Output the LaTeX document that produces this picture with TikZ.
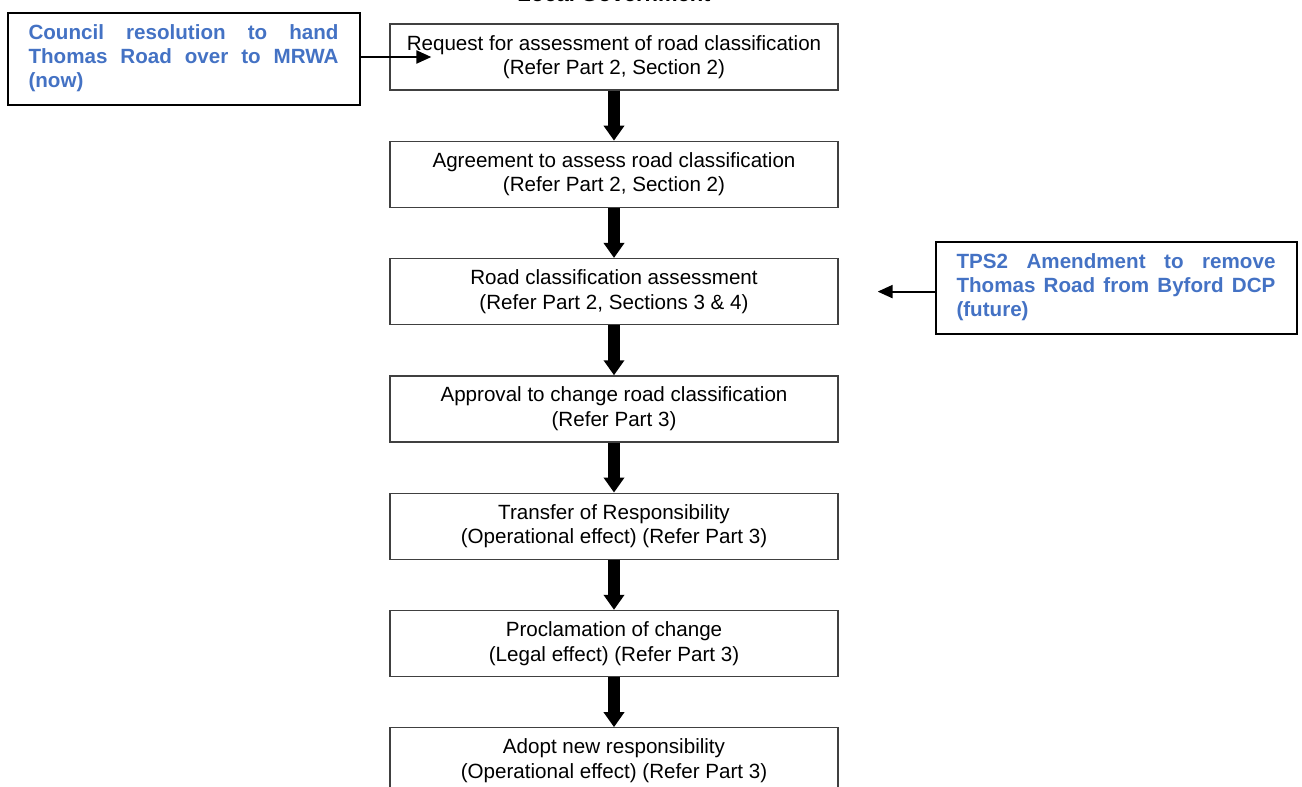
\documentclass[tikz,border=0pt]{standalone}
\usepackage{fontspec}
\setmainfont{Liberation Sans}
\usepackage{xcolor}
\usetikzlibrary{arrows.meta,positioning}
\definecolor{noteblue}{RGB}{68,114,196}
\hyphenpenalty=10000
\tikzset{
  stagebox/.style={
    draw=black!75,
    line width=1.3pt,
    align=center,
    minimum width=448pt,
    minimum height=66pt,
    inner sep=0pt,
    font=\fontsize{20.6}{24.5}\selectfont
  },
  notebox/.style={
    draw=black,
    line width=2pt,
    align=justify,
    inner xsep=21pt,
    inner ysep=0pt,
    minimum height=92pt,
    text=noteblue,
    font=\bfseries\fontsize{20.6}{24}\selectfont
  },
  stagearrow/.style={-{Triangle[width=20pt,length=15pt]}, line width=12pt},
  notearrow/.style={-{Triangle[width=13pt,length=15pt]}, line width=2.2pt}
}
\begin{document}
\begin{tikzpicture}[x=1pt, y=-1pt, node distance=50pt]
  \useasboundingbox (0,0) rectangle (1302,787);
  \node[anchor=base, font=\bfseries\fontsize{22}{26}\selectfont] (title) at (614,1.5) {Local Government};

  \node[stagebox] (request) at (614,57) {Request for assessment of road classification\\(Refer Part 2, Section 2)};
  \node[stagebox, below=of request] (agree) {Agreement to assess road classification\\(Refer Part 2, Section 2)};
  \node[stagebox, below=of agree] (assess) {Road classification assessment\\(Refer Part 2, Sections 3 \& 4)};
  \node[stagebox, below=of assess] (approve) {Approval to change road classification\\(Refer Part 3)};
  \node[stagebox, below=of approve] (transfer) {Transfer of Responsibility\\(Operational effect) (Refer Part 3)};
  \node[stagebox, below=of transfer] (proclaim) {Proclamation of change\\(Legal effect) (Refer Part 3)};
  \node[stagebox, below=of proclaim] (adopt) {Adopt new responsibility\\(Operational effect) (Refer Part 3)};

  \node[notebox, text width=310pt] (council) at (183.5,58.5) {Council resolution to hand Thomas Road over to MRWA (now)};
  \node[notebox, text width=319pt] (tps) at (1116,287.5) {TPS2 Amendment to remove Thomas Road from Byford DCP (future)};

  \coordinate[right=42pt of request.west] (requestin);
  \coordinate[right=39pt of assess.east] (assessin);

  \draw[stagearrow] (request) -- (agree);
  \draw[stagearrow] (agree) -- (assess);
  \draw[stagearrow] (assess) -- (approve);
  \draw[stagearrow] (approve) -- (transfer);
  \draw[stagearrow] (transfer) -- (proclaim);
  \draw[stagearrow] (proclaim) -- (adopt);

  \draw[notearrow] (council.east |- request) -- (requestin);
  \draw[notearrow] (tps.west |- assess) -- (assessin);
\end{tikzpicture}
\end{document}
